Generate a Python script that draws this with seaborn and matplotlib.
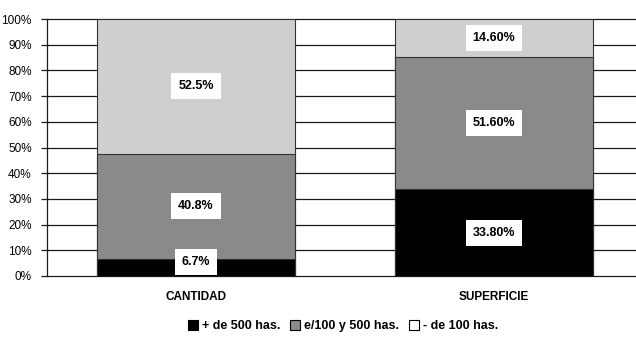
import matplotlib
matplotlib.use("Agg")
import matplotlib.pyplot as plt
import seaborn as sns
import pandas as pd
import numpy as np
from matplotlib.patches import Patch

categories = ["CANTIDAD", "SUPERFICIE"]
series_names = ["+ de 500 has.", "e/100 y 500 has.", "- de 100 has."]
big = [6.7, 33.8]        # + de 500 has.
mid = [40.8, 51.6]       # e/100 y 500 has.
small = [52.5, 14.6]     # - de 100 has.
labels_big = ["6.7%", "33.80%"]
labels_mid = ["40.8%", "51.60%"]
labels_small = ["52.5%", "14.60%"]
yticks = [0, 10, 20, 30, 40, 50, 60, 70, 80, 90, 100]
ytick_labels = [f"{v}%" for v in yticks]

colors = ["#000000", "#8a8a8a", "#cfcfcf"]

sns.set_theme(style="white")
plt.rcParams["font.family"] = ["Liberation Sans", "DejaVu Sans"]
plt.rcParams["text.color"] = "black"
plt.rcParams["xtick.color"] = "black"
plt.rcParams["ytick.color"] = "black"

fig = plt.figure(figsize=(6.36, 3.40), dpi=100)
ax = fig.add_axes([47/636, (340-276)/340, (643-47)/636, 257/340])

big_a = np.array(big)
mid_a = np.array(mid)
small_a = np.array(small)
cum1 = big_a
cum2 = big_a + mid_a
cum3 = big_a + mid_a + small_a

# gridlines behind bars
for v in yticks:
    ax.axhline(v, color="#1a1a1a", lw=0.9, zorder=0, clip_on=False)

for cum, col in [(cum3, colors[2]), (cum2, colors[1]), (cum1, colors[0])]:
    df = pd.DataFrame({"cat": categories, "val": cum})
    sns.barplot(data=df, x="cat", y="val", color=col, width=0.667,
                edgecolor="#333333", linewidth=0.8, saturation=1, ax=ax, zorder=2)

ax.set_xlim(-0.5, 1.5)
ax.set_ylim(0, 100)
ax.set_yticks(yticks)
ax.set_yticklabels(ytick_labels, fontsize=8.5, color="black")
ax.set_xlabel("")
ax.set_ylabel("")
ax.set_xticks(range(len(categories)))
ax.set_xticklabels(categories, fontsize=8.5, fontweight="bold", color="black")
ax.tick_params(axis="y", length=4, width=0.9, color="#1a1a1a", direction="out", left=True, pad=7)
ax.tick_params(axis="x", length=0, pad=11)
for s in ["top", "right", "bottom"]:
    ax.spines[s].set_visible(False)
ax.spines["left"].set_color("#1a1a1a")
ax.spines["left"].set_linewidth(0.9)

bbox = dict(facecolor="white", edgecolor="none", pad=5)
for i in range(len(categories)):
    for lo, hi, lab in [(0, cum1[i], labels_big[i]), (cum1[i], cum2[i], labels_mid[i]), (cum2[i], cum3[i], labels_small[i])]:
        y = max((lo + hi) / 2, 5.5)
        ax.text(i, y, lab, ha="center", va="center", fontsize=9, fontweight="bold",
                color="black", bbox=bbox, zorder=5)

handles = [Patch(facecolor=colors[0], edgecolor="#000000", linewidth=0.8),
           Patch(facecolor=colors[1], edgecolor="#000000", linewidth=0.8),
           Patch(facecolor="white", edgecolor="#000000", linewidth=0.8)]
fig.legend(handles, series_names, loc="center", bbox_to_anchor=(343/636, 1 - 326/340),
           ncol=3, frameon=False, handlelength=0.8, handleheight=0.8,
           handletextpad=0.3, columnspacing=0.8, prop={"weight": "bold", "size": 9})

fig.savefig("out.png", dpi=100)
